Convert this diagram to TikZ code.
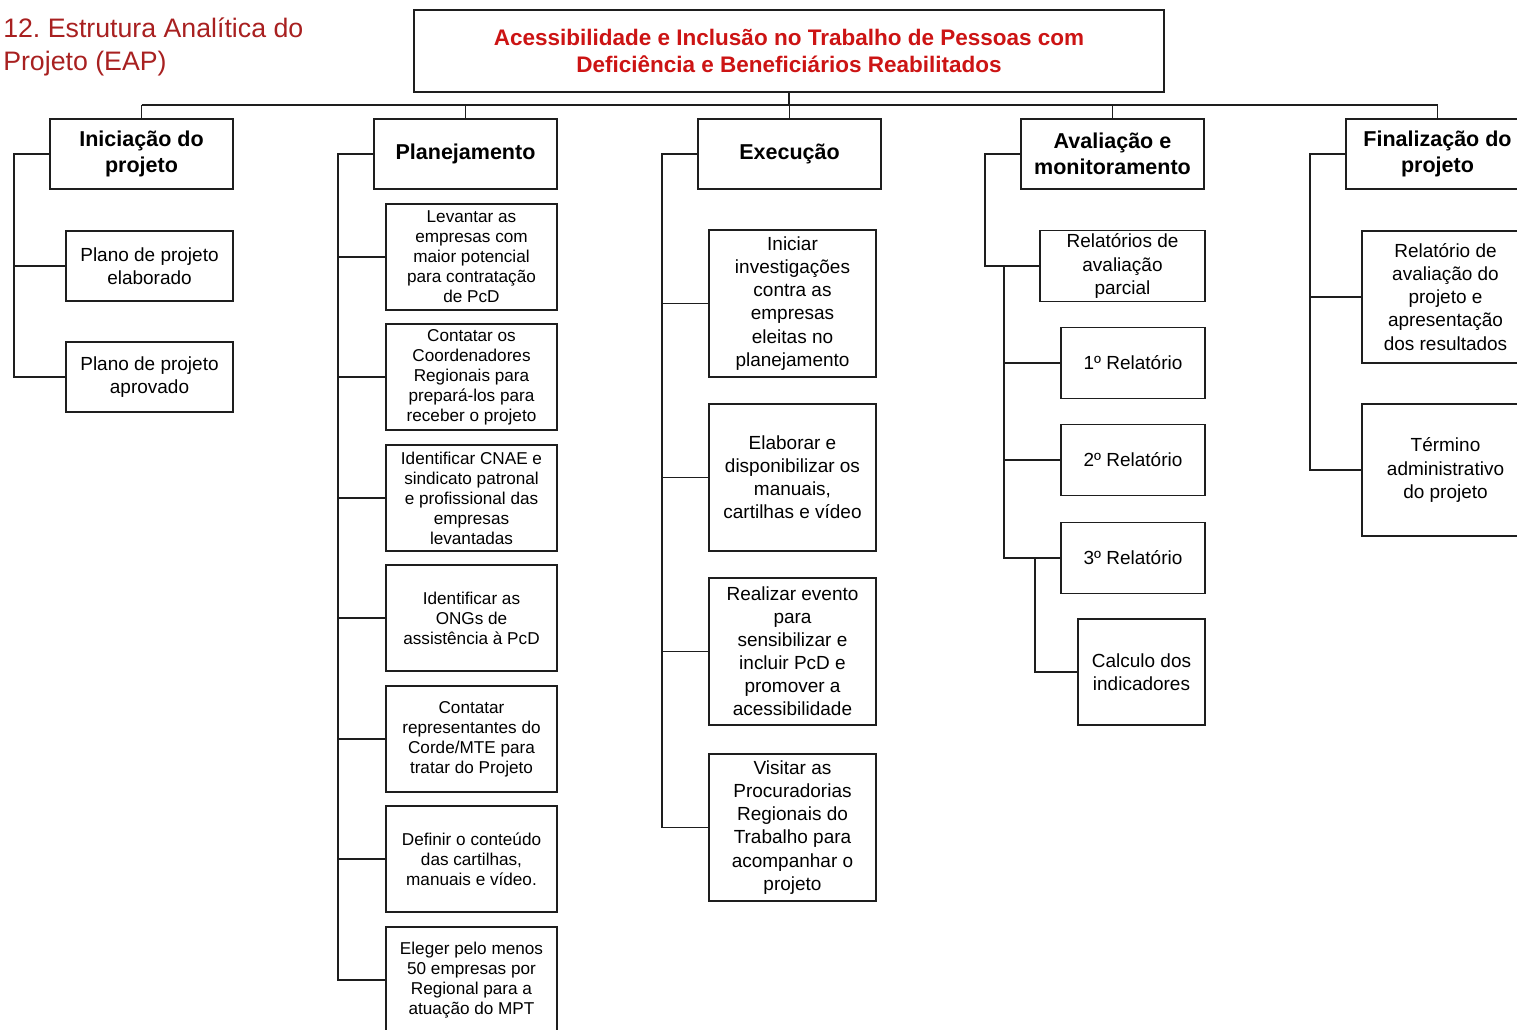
\documentclass[tikz,border=0pt]{standalone}
\usepackage{fontspec}
\setmainfont{Liberation Sans}
\usepackage{xcolor}
\definecolor{eaptitle}{RGB}{168, 32, 32}
\definecolor{eapred}{RGB}{204, 20, 20}
\definecolor{eapline}{RGB}{30, 30, 30}
\usetikzlibrary{calc}
\frenchspacing

\begin{document}
\begin{tikzpicture}[x=0.025cm, y=-0.025cm,
    box/.style={draw=eapline, line width=1.1pt, rectangle, inner sep=0pt, align=center},
    rootbox/.style={box, minimum width=18.75cm, minimum height=2.05cm,
        text=eapred, font=\fontsize{16}{19}\selectfont\bfseries},
    headbox/.style={box, minimum width=4.575cm, minimum height=1.75cm,
        font=\fontsize{15.3}{18.5}\selectfont\bfseries},
    taskbox/.style={box, font=\fontsize{13.5}{16.4}\selectfont},
    planbox/.style={box, minimum width=4.275cm, minimum height=2.65cm,
        font=\fontsize{12.2}{14.2}\selectfont},
    link/.style={draw=eapline, line width=1.1pt}
]

\clip (0,0) rectangle (1517,1030);

% === Titulo ===
\node[anchor=west, align=left, inner sep=0pt, text=eaptitle,
      font=\fontsize{19}{23}\selectfont] (titulo) at (3,47)
    {12. Estrutura Analítica do\\Projeto (EAP)};

% === Raiz ===
\node[rootbox] (raiz) at (789,51)
    {Acessibilidade e Inclusão no Trabalho de Pessoas com\\Deficiência e Beneficiários Reabilitados};

% === Fases ===
\node[headbox] (ini) at (141.5,154) {Iniciação do\\projeto};
\node[headbox] (plan) at (465.5,154) {Planejamento};
\node[headbox] (exe) at (789.5,154) {Execução};
\node[headbox] (ava) at (1112.5,154) {Avaliação e\\monitoramento};
\node[headbox] (fin) at (1437.5,154) {Finalização do\\projeto};

% Barramento
\draw[link] (raiz.south) -- ++(0,12) coordinate (bus);
\draw[link] (bus -| ini.north) -- (bus -| fin.north);
\foreach \f in {ini, plan, exe, ava, fin}
    \draw[link] (bus -| \f.north) -- (\f.north);

% === Iniciacao ===
\begin{scope}[every node/.style={taskbox, minimum width=4.175cm, minimum height=1.75cm}]
    \node (ini1) at (149.5,266) {Plano de projeto\\elaborado};
    \node (ini2) at (149.5,377) {Plano de projeto\\aprovado};
\end{scope}
\draw[link] (ini.west) -- ++(-35,0) coordinate (iniBus) |- (ini2.west);
\draw[link] (iniBus) |- (ini1.west);

% === Planejamento ===
\node[planbox] (plan1) at (471.5,257) {Levantar as\\empresas com\\maior potencial\\para contratação\\de PcD};
\node[planbox] (plan2) at (471.5,377) {Contatar os\\Coordenadores\\Regionais para\\prepará-los para\\receber o projeto};
\node[planbox] (plan3) at (471.5,498) {Identificar CNAE e\\sindicato patronal\\e profissional das\\empresas\\levantadas};
\node[planbox] (plan4) at (471.5,618) {Identificar as\\ONGs de\\assistência à PcD};
\node[planbox] (plan5) at (471.5,739) {Contatar\\representantes do\\Corde/MTE para\\tratar do Projeto};
\node[planbox] (plan6) at (471.5,859) {Definir o conteúdo\\das cartilhas,\\manuais e vídeo.};
\node[planbox] (plan7) at (471.5,980) {Eleger pelo menos\\50 empresas por\\Regional para a\\atuação do MPT};
\draw[link] (plan.west) -- ++(-35,0) coordinate (planBus) |- (plan7.west);
\foreach \i in {1,...,6}
    \draw[link] (planBus) |- (plan\i.west);

% === Execucao ===
\begin{scope}[every node/.style={taskbox, minimum width=4.175cm, minimum height=3.675cm}]
    \node (exe1) at (792.5,303.5) {Iniciar\\investigações\\contra as\\empresas\\eleitas no\\planejamento};
    \node (exe2) at (792.5,477.5) {Elaborar e\\disponibilizar os\\manuais,\\cartilhas e vídeo};
    \node (exe3) at (792.5,651.5) {Realizar evento\\para\\sensibilizar e\\incluir PcD e\\promover a\\acessibilidade};
    \node (exe4) at (792.5,827.5) {Visitar as\\Procuradorias\\Regionais do\\Trabalho para\\acompanhar o\\projeto};
\end{scope}
\draw[link] (exe.west) -- ++(-35,0) coordinate (exeBus) |- (exe4.west);
\foreach \i in {1,2,3}
    \draw[link] (exeBus) |- (exe\i.west);

% === Avaliacao ===
\node[taskbox, minimum width=4.125cm, minimum height=1.775cm] (ava1) at (1122.5,266)
    {Relatórios de\\avaliação\\parcial};
\begin{scope}[every node/.style={taskbox, minimum width=3.6cm, minimum height=1.775cm}]
    \node (rel1) at (1133,363) {1º Relatório};
    \node (rel2) at (1133,460) {2º Relatório};
    \node (rel3) at (1133,558) {3º Relatório};
\end{scope}
\node[taskbox, minimum width=3.175cm, minimum height=2.65cm] (calc) at (1141.5,672)
    {Calculo dos\\indicadores};
\draw[link] (ava.west) -- ++(-35,0) |- (ava1.west);
\draw[link] ($(ava1.west)+(-35,0)$) coordinate (relBus) |- (rel3.west);
\draw[link] (relBus) |- (rel1.west);
\draw[link] (relBus) |- (rel2.west);
\draw[link] ($(rel3.west)+(-25,0)$) |- (calc.west);

% === Finalizacao ===
\begin{scope}[every node/.style={taskbox, minimum width=4.175cm, minimum height=3.3cm}]
    \node (fin1) at (1445.5,297) {Relatório de\\avaliação do\\projeto e\\apresentação\\dos resultados};
    \node (fin2) at (1445.5,470) {Término\\administrativo\\do projeto};
\end{scope}
\draw[link] (fin.west) -- ++(-35,0) coordinate (finBus) |- (fin2.west);
\draw[link] (finBus) |- (fin1.west);

\end{tikzpicture}
\end{document}
